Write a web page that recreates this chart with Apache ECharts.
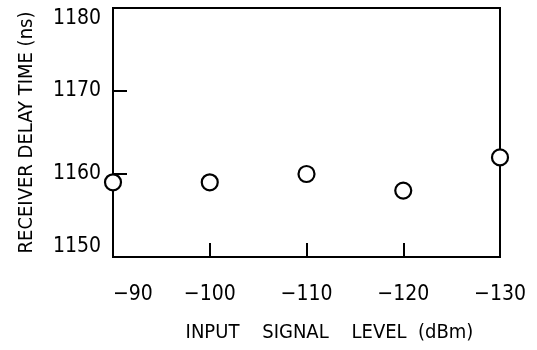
<!DOCTYPE html>
<html>
<head>
<meta charset="utf-8">
<script src="https://cdn.jsdelivr.net/npm/echarts@6/dist/echarts.min.js"></script>
<style>
  html, body { margin: 0; padding: 0; background: #fff; }
  #delayChart { width: 537px; height: 350px; }
</style>
</head>
<body>
<div id="delayChart"></div>
<script>
// input signal level (dBm) and measured receiver delay (ns)
const signalLevel = [-90, -100, -110, -120, -130]
const delayTime = [1159, 1159, 1160, 1158, 1162]
const yTicks = [1150, 1160, 1170, 1180]

const font = '"Liberation Sans Narrow", "DejaVu Sans Condensed", sans-serif'

const myChart = echarts.init(document.getElementById('delayChart'), null, { renderer: 'canvas' })
const option = {
  backgroundColor: '#fff',
  animation: false,
  grid: {
    left: 113,
    right: 37,
    top: 8,
    bottom: 93,
    show: true,
    borderColor: '#000',
    borderWidth: 2
  },
  xAxis: {
    type: 'value',
    inverse: true,
    min: -130,
    max: -90,
    interval: 10,
    name: 'INPUT    SIGNAL    LEVEL  (dBm)',
    nameLocation: 'middle',
    nameGap: 66,
    nameTextStyle: {
      color: '#000',
      fontFamily: font,
      fontSize: 20,
      padding: [0, 0, 0, 46]
    },
    axisLine: { lineStyle: { color: '#000', width: 2 } },
    axisTick: { inside: true, length: 14, lineStyle: { color: '#000', width: 2 } },
    axisLabel: {
      margin: 27,
      color: '#000',
      fontFamily: font,
      fontSize: 21,
      alignMaxLabel: 'left',
      formatter: v => '\u2212' + Math.abs(v)
    },
    splitLine: { show: false }
  },
  yAxis: {
    type: 'value',
    min: yTicks[0],
    max: yTicks[yTicks.length - 1],
    interval: 10,
    name: 'RECEIVER DELAY TIME (ns)',
    nameLocation: 'middle',
    nameGap: 76,
    nameTextStyle: {
      color: '#000',
      fontFamily: font,
      fontSize: 20
    },
    axisLine: { lineStyle: { color: '#000', width: 2 } },
    axisTick: { inside: true, length: 14, lineStyle: { color: '#000', width: 2 } },
    axisLabel: {
      margin: 12,
      color: '#000',
      fontFamily: font,
      fontSize: 21,
      verticalAlignMinLabel: 'bottom',
      verticalAlignMaxLabel: 'top',
      formatter: v => String(v)
    },
    splitLine: { show: false }
  },
  series: [
    {
      type: 'scatter',
      symbol: 'circle',
      symbolSize: 16,
      itemStyle: {
        color: '#fff',
        opacity: 1,
        borderColor: '#000',
        borderWidth: 2.2
      },
      emphasis: { disabled: true },
      data: signalLevel.map((x, i) => [x, delayTime[i]])
    }
  ]
}
myChart.setOption(option)
</script>
</body>
</html>
